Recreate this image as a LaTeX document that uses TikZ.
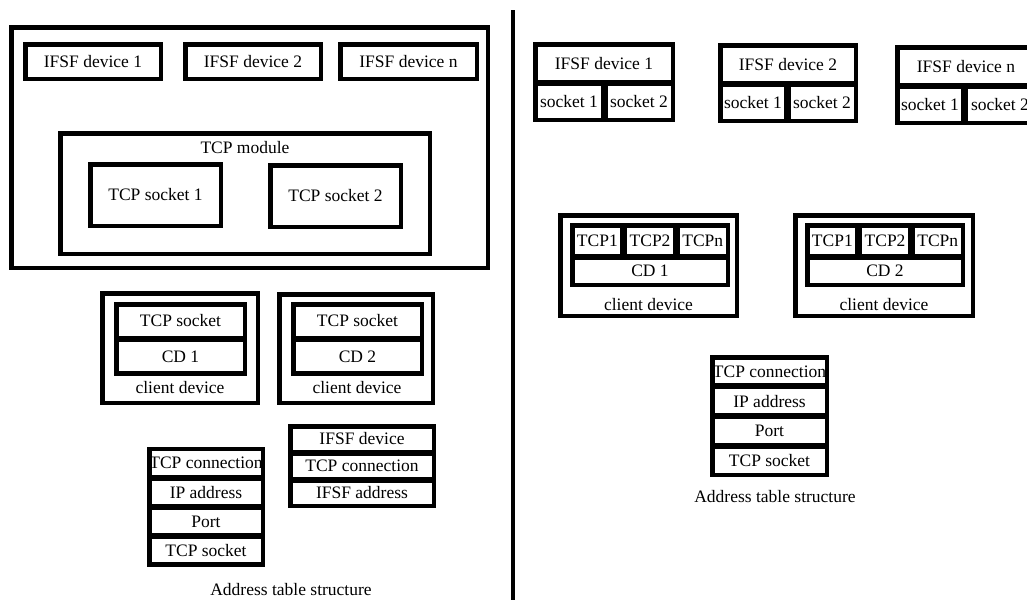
\documentclass[tikz,border=0pt]{standalone}
\usepackage{fontspec}
\setmainfont{Liberation Serif}
\usepackage{tikz}
\usetikzlibrary{positioning}

\begin{document}
\begin{tikzpicture}[
  x=1pt, y=-1pt,
  font=\fontsize{17.5pt}{20pt}\selectfont,
  box/.style={draw, line width=4.5pt, inner sep=0pt, align=center},
  sz/.style 2 args={minimum width=#1pt, minimum height=#2pt},
  txt/.style={inner sep=0pt}
]
\useasboundingbox (0,0) rectangle (1027,600);
\clip (0,0) rectangle (1027,600);

% left: host with IFSF devices and TCP module
\node[box, sz={476.5}{240.5}] (host) at (249.5,147.5) {};
\node[box, sz={135.5}{34.5}] (ifsfA) at (93,61.5) {IFSF device 1};
\node[box, sz={135.5}{34.5}] (ifsfB) at (253,61.5) {IFSF device 2};
\node[box, sz={136.5}{34.5}] (ifsfN) at (408.5,61.5) {IFSF device n};
\node[box, sz={369.5}{120.5}] (tcpmod) at (245,193.5) {};
\node[txt] (tcpmodlbl) at (245,148) {TCP module};
\node[box, sz={130.5}{61.5}] (sockA) at (155.5,195) {TCP socket 1};
\node[box, sz={130.5}{61.5}] (sockB) at (335.5,196) {TCP socket 2};

% left: client devices
\node[box, sz={155.5}{109.5}] (cdA) at (180,348) {};
\node[box, sz={128.5}{33.5}] (cdAsock) at (180.5,321) {TCP socket};
\node[box, sz={128.5}{33.5}, below=-2.5pt of cdAsock] (cdAid) {CD 1};
\node[txt] (cdAlbl) at (180,388) {client device};
\node[box, sz={153.5}{108.5}] (cdB) at (356,348.5) {};
\node[box, sz={128.5}{33.5}] (cdBsock) at (357.5,321) {TCP socket};
\node[box, sz={128.5}{33.5}, below=-2.5pt of cdBsock] (cdBid) {CD 2};
\node[txt] (cdBlbl) at (357,388) {client device};

% left: address tables
\node[box, sz={113.5}{27.75}] (tabA1) at (206,463.1) {TCP connection};
\node[box, sz={113.5}{27.75}, below=-3pt of tabA1] (tabA2) {IP address};
\node[box, sz={113.5}{27.75}, below=-3pt of tabA2] (tabA3) {Port};
\node[box, sz={113.5}{27.75}, below=-3pt of tabA3] (tabA4) {TCP socket};
\node[box, sz={143.5}{25.5}] (tabB1) at (362,439) {IFSF device};
\node[box, sz={143.5}{25.5}, below=-3pt of tabB1] (tabB2) {TCP connection};
\node[box, sz={143.5}{25.5}, below=-3pt of tabB2] (tabB3) {IFSF address};
\node[txt] (tabAlbl) at (291,590) {Address table structure};

% divider
\draw[line width=3.5pt] (513,10) -- (513,600);

% right: IFSF devices with sockets
\node[box, sz={137.5}{38}] (rIfsfA) at (604,63.25) {IFSF device 1};
\node[box, sz={67.5}{36}, below right=-3pt and 0pt of rIfsfA.south west] (rIfsfAs1) {socket 1};
\node[box, sz={67.5}{36}, right=-2pt of rIfsfAs1] (rIfsfAs2) {socket 2};
\node[box, sz={135.5}{38}] (rIfsfB) at (788,64.25) {IFSF device 2};
\node[box, sz={65.5}{36}, below right=-3pt and 0pt of rIfsfB.south west] (rIfsfBs1) {socket 1};
\node[box, sz={67.5}{36}, right=-2pt of rIfsfBs1] (rIfsfBs2) {socket 2};
\node[box, sz={137.5}{38}] (rIfsfN) at (966,66.25) {IFSF device n};
\node[box, sz={65.5}{36}, below right=-3pt and 0pt of rIfsfN.south west] (rIfsfNs1) {socket 1};
\node[box, sz={69.5}{36}, right=-2pt of rIfsfNs1] (rIfsfNs2) {socket 2};

% right: client devices
\node[box, sz={176.5}{100.5}] (rcdA) at (648.5,265.5) {};
\node[box, sz={50.2}{30.5}] (rcdAt1) at (597.35,240.5) {TCP1};
\node[box, sz={50.2}{30.5}, right=-2pt of rcdAt1] (rcdAt2) {TCP2};
\node[box, sz={50.2}{30.5}, right=-2pt of rcdAt2] (rcdAtn) {TCPn};
\node[box, sz={155.5}{27.5}, below right=-3pt and 0pt of rcdAt1.south west] (rcdAid) {CD 1};
\node[txt] (rcdAlbl) at (648.5,305) {client device};
\node[box, sz={177.5}{100.5}] (rcdB) at (884,265.5) {};
\node[box, sz={50.2}{30.5}] (rcdBt1) at (832.35,240.5) {TCP1};
\node[box, sz={50.2}{30.5}, right=-2pt of rcdBt1] (rcdBt2) {TCP2};
\node[box, sz={50.2}{30.5}, right=-2pt of rcdBt2] (rcdBtn) {TCPn};
\node[box, sz={155.5}{27.5}, below right=-3pt and 0pt of rcdBt1.south west] (rcdBid) {CD 2};
\node[txt] (rcdBlbl) at (884,305) {client device};

% right: address table
\node[box, sz={114.5}{28.25}] (rtab1) at (769.5,371.4) {TCP connection};
\node[box, sz={114.5}{28.25}, below=-3pt of rtab1] (rtab2) {IP address};
\node[box, sz={114.5}{28.25}, below=-3pt of rtab2] (rtab3) {Port};
\node[box, sz={114.5}{28.25}, below=-3pt of rtab3] (rtab4) {TCP socket};
\node[txt] (rtablbl) at (775,497) {Address table structure};
\end{tikzpicture}
\end{document}
